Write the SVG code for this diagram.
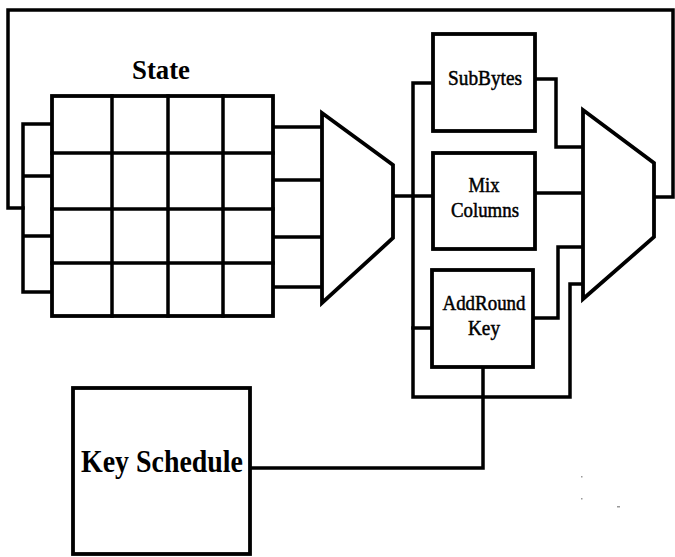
<svg xmlns="http://www.w3.org/2000/svg" width="675" height="557" viewBox="0 0 675 557">
<style>
.ln{fill:none;stroke:#000;stroke-width:3.5;stroke-linejoin:miter;stroke-linecap:square}
.bx{fill:#fff;stroke:#000;stroke-width:3.8}
.t{font-family:"Liberation Serif","Times New Roman",serif;fill:#000;text-anchor:middle}
.r{stroke:#000;stroke-width:0.5}
.b{font-weight:bold}
</style>
<rect width="675" height="557" fill="#fff"/>
<g id="connectors">
  <path class="ln" d="M23,124 V292 M23,124 H52 M23,176 H52 M23,236 H52 M23,292 H52"/>
  <path class="ln" d="M23,208 H8 V10 H673 V197 H654"/>
  <path class="ln" d="M273,127 H322 M273,180 H322 M273,237 H322 M273,287 H322"/>
  <path class="ln" d="M393,196 H433"/>
  <path class="ln" d="M433,83 H413 V397 H570 V284 H583"/>
  <path class="ln" d="M413,328 H432"/>
  <path class="ln" d="M536,79 H556 V147 H583"/>
  <path class="ln" d="M536,193 H583"/>
  <path class="ln" d="M535,318 H558 V247 H583"/>
  <path class="ln" d="M483,367 V468 H250"/>
</g>
<g id="state">
  <rect class="bx" x="52" y="96" width="221" height="220"/>
  <path class="ln" d="M112,96 V316 M168,96 V316 M223,96 V316 M52,153 H273 M52,209 H273 M52,263 H273"/>
  <text class="t b" x="161" y="79" font-size="28" textLength="58" lengthAdjust="spacingAndGlyphs">State</text>
</g>
<g id="mux1">
  <polygon class="bx" points="322,113 393,165 393,238 322,303"/>
</g>
<g id="subbytes">
  <rect class="bx" x="433" y="34" width="102" height="97"/>
  <text class="t r" x="485" y="85" font-size="21" textLength="74" lengthAdjust="spacingAndGlyphs">SubBytes</text>
</g>
<g id="mixcolumns">
  <rect class="bx" x="433" y="153" width="102" height="96"/>
  <text class="t r" x="484" y="192" font-size="21" textLength="31" lengthAdjust="spacingAndGlyphs">Mix</text>
  <text class="t r" x="485" y="217" font-size="21" textLength="68" lengthAdjust="spacingAndGlyphs">Columns</text>
</g>
<g id="addroundkey">
  <rect class="bx" x="432" y="270" width="101" height="97"/>
  <text class="t r" x="484" y="310" font-size="21" textLength="83" lengthAdjust="spacingAndGlyphs">AddRound</text>
  <text class="t r" x="484" y="335" font-size="21" textLength="32" lengthAdjust="spacingAndGlyphs">Key</text>
</g>
<g id="mux2">
  <polygon class="bx" points="583,110 654,163 654,237 583,299"/>
</g>
<g id="keyschedule">
  <rect class="bx" x="73" y="388" width="177" height="166"/>
  <text class="t b" x="162" y="472" font-size="32" textLength="162" lengthAdjust="spacingAndGlyphs">Key Schedule</text>
</g>
<g id="specks" fill="#999">
  <rect x="581" y="476" width="1.5" height="1.5"/>
  <rect x="581" y="498" width="1.5" height="1.5"/>
  <rect x="617" y="506" width="3" height="1.5"/>
</g>
</svg>
